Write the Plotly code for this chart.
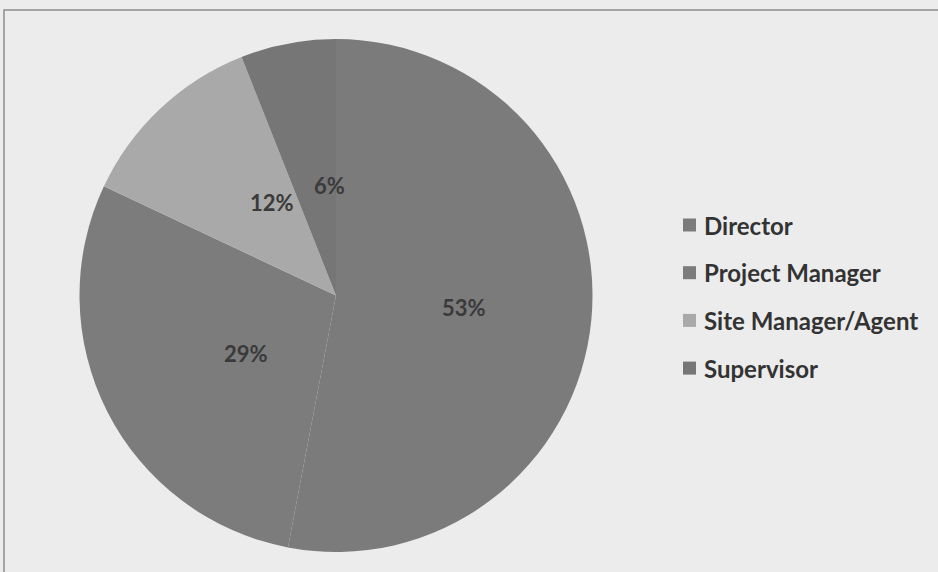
import math
import plotly.graph_objects as go

# Respondent roles and their share of the sample (%)
roles = ["Director", "Project Manager", "Site Manager/Agent", "Supervisor"]
shares = [53, 29, 12, 6]
slice_colors = ["#7b7b7b", "#7c7c7c", "#a9a9a9", "#767676"]

W, H = 938, 572
# Pie area in pixels (left, right, top, bottom)
px_l, px_r, px_t, px_b = 77, 595, 39, 552
FONT = "Lato, Open Sans, sans-serif"

fig = go.Figure()
fig.add_trace(go.Pie(
    labels=roles,
    values=shares,
    sort=False,
    direction="clockwise",
    rotation=0,
    marker=dict(colors=slice_colors, line=dict(width=0)),
    textinfo="none",
    hoverinfo="label+percent",
    showlegend=False,
    domain=dict(x=[px_l / W, px_r / W], y=[1 - px_b / H, 1 - px_t / H]),
))

# Percentage labels placed halfway out along the middle angle of each slice
cx = (px_l + px_r) / 2
cy = (px_t + px_b) / 2
R = min(px_r - px_l, px_b - px_t) / 2
total = sum(shares)
start = 0.0
annotations = []
for v in shares:
    mid = (start + v / 2) / total * 2 * math.pi
    start += v
    x = cx + 0.5 * R * math.sin(mid)
    y = cy - 0.5 * R * math.cos(mid)
    annotations.append(dict(
        x=x / W, y=1 - y / H, xref="paper", yref="paper",
        text=f"{round(v / total * 100)}%", showarrow=False,
        font=dict(family=FONT, size=22, color="#3a3a3a", weight="bold"),
    ))

# Legend drawn as swatches with labels
shapes = []
leg_x, leg_y0, leg_dy = 683, 225, 47.7
for i, (name, col) in enumerate(zip(roles, slice_colors)):
    yy = leg_y0 + i * leg_dy
    shapes.append(dict(
        type="rect", xref="paper", yref="paper",
        x0=leg_x / W, x1=(leg_x + 13) / W,
        y0=1 - (yy + 6.5) / H, y1=1 - (yy - 6.5) / H,
        fillcolor=col, line=dict(width=0),
    ))
    annotations.append(dict(
        x=(leg_x + 19) / W, y=1 - yy / H, xref="paper", yref="paper",
        xanchor="left", yanchor="middle", text=name, showarrow=False,
        font=dict(family=FONT, size=24, color="#333333", weight="bold"),
    ))

# Frame around the chart area
shapes.append(dict(
    type="rect", xref="paper", yref="paper",
    x0=4 / W, x1=1.01, y0=-0.01, y1=1 - 10 / H,
    line=dict(color="#8c8c8c", width=1.5), fillcolor="rgba(0,0,0,0)",
))

fig.update_layout(
    width=W, height=H,
    margin=dict(l=0, r=0, t=0, b=0),
    paper_bgcolor="#ececec",
    plot_bgcolor="#ececec",
    annotations=annotations,
    shapes=shapes,
)

fig.write_html("out.html")
